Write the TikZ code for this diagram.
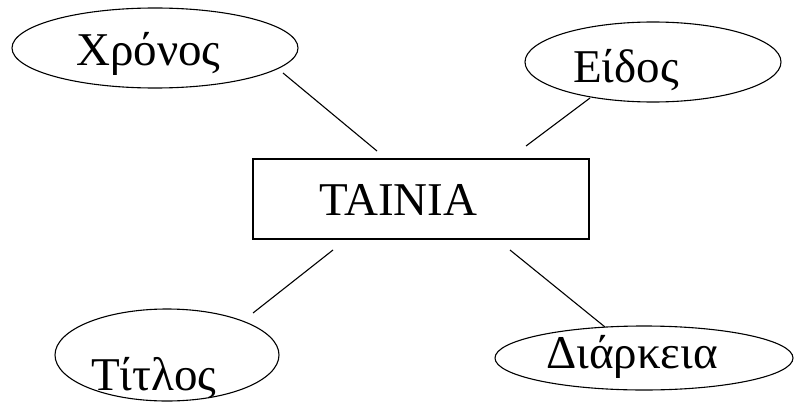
\documentclass[tikz,border=0pt]{standalone}
\usepackage{fontspec}
\setmainfont{Liberation Serif}
\usetikzlibrary{shapes.geometric}
\tikzset{
  attr/.style={draw, ellipse, line width=1.1pt, inner sep=0pt},
  entity/.style={draw, rectangle, line width=1.3pt, inner sep=0pt},
  lbl/.style={anchor=base west, inner sep=0pt, font=\fontsize{47}{50}\selectfont},
  conn/.style={line width=1.1pt}
}
\begin{document}
\begin{tikzpicture}[x=1pt,y=-1pt]
\useasboundingbox (0,0) rectangle (794,404);
% entity
\node[entity, minimum width=336pt, minimum height=80pt] (box) at (421,199) {};
\node[lbl] (tboxtxt) at (319,215) {TAINIA};
% attributes
\node[attr, minimum width=286pt, minimum height=80pt] (e1) at (155,48) {};
\node[lbl] (t1) at (76,65) {Χρόνος};
\node[attr, minimum width=256pt, minimum height=80pt] (e2) at (653,62) {};
\node[lbl] (t2) at (573,82) {Είδος};
\node[attr, minimum width=224pt, minimum height=92pt] (e3) at (167,355) {};
\node[lbl] (t3) at (91,390) {Τίτλος};
\node[attr, minimum width=298pt, minimum height=64pt] (e4) at (644,358) {};
\node[lbl] (t4) at (546,368) {Διάρκεια};
% connector ends
\coordinate (a1) at (283,73);  \coordinate (b1) at (377,151);
\coordinate (a2) at (590,98);  \coordinate (b2) at (526,146);
\coordinate (a3) at (253,313); \coordinate (b3) at (333,250);
\coordinate (a4) at (605,327); \coordinate (b4) at (510,250);
\draw[conn] (a1) -- (b1);
\draw[conn] (a2) -- (b2);
\draw[conn] (a3) -- (b3);
\draw[conn] (a4) -- (b4);
\end{tikzpicture}
\end{document}
